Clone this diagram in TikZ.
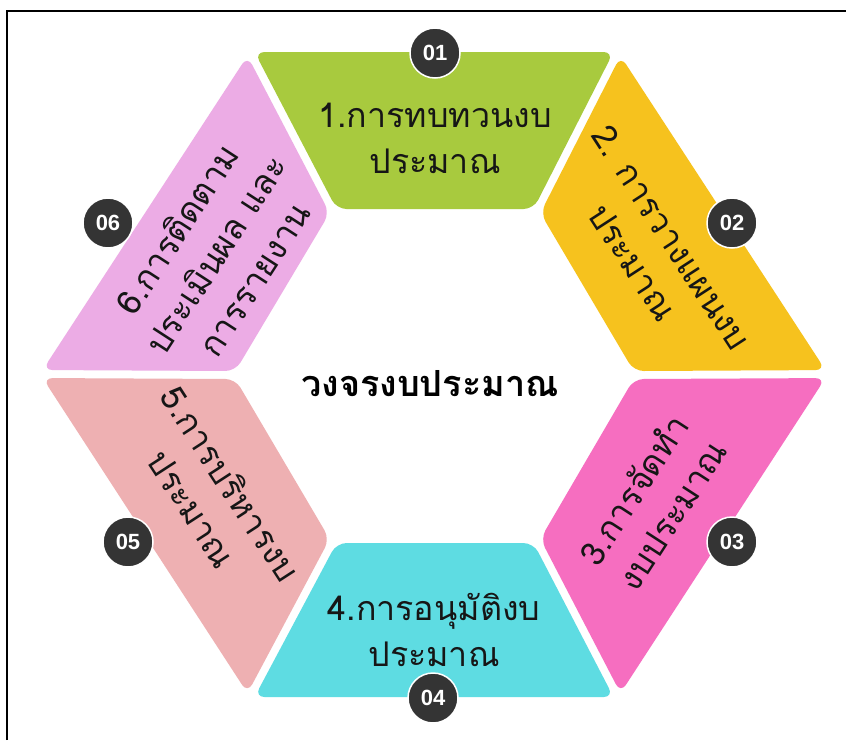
\documentclass[tikz,border=0pt]{standalone}
\usepackage{fontspec}
\usetikzlibrary{calc}
\newfontfamily\thaifont[Script=Thai]{Loma}
\newfontfamily\badgefont{Liberation Sans}
\definecolor{segyellow}{RGB}{246,194,30}
\definecolor{seggreen}{RGB}{168,202,62}
\definecolor{segviolet}{RGB}{236,172,229}
\definecolor{segsalmon}{RGB}{238,176,178}
\definecolor{segcyan}{RGB}{94,220,226}
\definecolor{segpink}{RGB}{246,110,192}
\definecolor{badgegray}{RGB}{52,52,52}
\definecolor{labelink}{RGB}{22,22,22}
\tikzset{
  seglabel/.style={align=center, text=labelink, font=\thaifont\fontsize{34}{46}\selectfont, inner sep=0pt},
  badge/.style={circle, fill=badgegray, draw=white, line width=1.5pt, minimum size=50pt, inner sep=0pt,
    text=white, font=\badgefont\bfseries\fontsize{22}{22}\selectfont},
  segfill/.style={rounded corners=10pt}
}
\begin{document}
\begin{tikzpicture}[x=1pt,y=-1pt]
\useasboundingbox (0,0) rectangle (846,740);
\fill[white] (0,0) rectangle (846,740);
\draw[line width=2.5pt] (7,740) -- (7,11) -- (846,11);
% outer and inner hexagon vertices
\coordinate (O0) at (828,374);
\coordinate (O1) at (618,52);
\coordinate (O2) at (250,52);
\coordinate (O3) at (40,374);
\coordinate (O4) at (250,697);
\coordinate (O5) at (618,697);
\coordinate (I0) at (636,375);
\coordinate (I1) at (538,209);
\coordinate (I2) at (332,209);
\coordinate (I3) at (233,375);
\coordinate (I4) at (332,543);
\coordinate (I5) at (538,543);
\foreach \k in {0,...,5}{
  \coordinate (A\k) at ($(I\k)!4pt!90:(O\k)$);
  \coordinate (B\k) at ($(O\k)!4pt!-90:(I\k)$);
  \coordinate (C\k) at ($(I\k)!4pt!-90:(O\k)$);
  \coordinate (D\k) at ($(O\k)!4pt!90:(I\k)$);
}
\foreach \k/\n/\c in {0/1/segyellow,1/2/seggreen,2/3/segviolet,3/4/segsalmon,4/5/segcyan,5/0/segpink}{
  \fill[\c, segfill]
    (intersection cs: first line={(A\k)--(B\k)}, second line={(O\k)--(O\n)}) --
    (intersection cs: first line={(C\n)--(D\n)}, second line={(O\k)--(O\n)}) --
    (intersection cs: first line={(C\n)--(D\n)}, second line={(I\k)--(I\n)}) --
    (intersection cs: first line={(A\k)--(B\k)}, second line={(I\k)--(I\n)}) -- cycle;
}
% labels
\node[seglabel] (t1) at (435,138) {1.การทบทวนงบ\\ประมาณ};
\node[seglabel, rotate=-57] (t2) at (652,250) {2. การวางแผนงบ\\ประมาณ};
\node[seglabel, rotate=57] (t3) at (652,502) {3.การจัดทำ\\งบประมาณ};
\node[seglabel] (t4) at (434,630) {4.การอนุมัติงบ\\ประมาณ};
\node[seglabel, rotate=-57] (t5) at (212,496) {5.การบริหารงบ\\ประมาณ};
\node[seglabel, rotate=57] (t6) at (215,254) {6.การติดตาม\\ประเมินผล และ\\การรายงาน};
\node[font=\thaifont\bfseries\fontsize{36}{36}\selectfont, text=black] (title) at (430,384) {วงจรงบประมาณ};
% badges
\node[badge] (b1) at (435,53) {01};
\node[badge] (b2) at (732,223) {02};
\node[badge] (b3) at (732,542) {03};
\node[badge] (b4) at (433,698) {04};
\node[badge] (b5) at (128,542) {05};
\node[badge] (b6) at (108,223) {06};
\end{tikzpicture}
\end{document}
